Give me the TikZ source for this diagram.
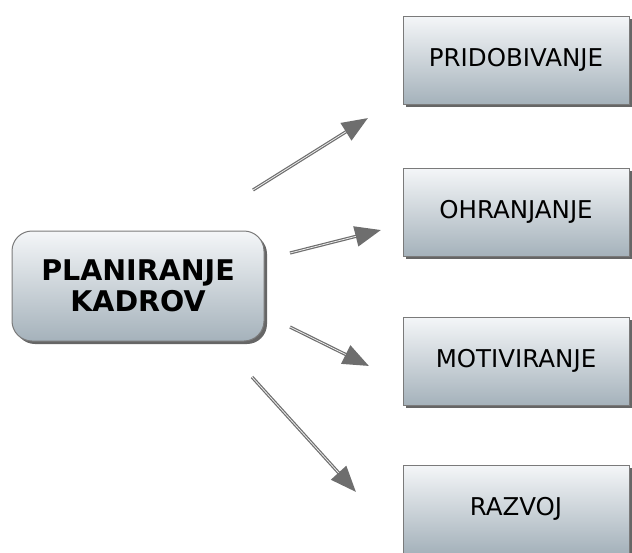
\documentclass[tikz,border=0pt]{standalone}
\usepackage{fontspec}
\setmainfont{DejaVu Sans}
\usetikzlibrary{arrows.meta,shadows}
\definecolor{boxtop}{HTML}{F4F6F8}
\definecolor{boxbot}{HTML}{A5B2BB}
\definecolor{boxline}{HTML}{7A7A7A}
\definecolor{arrowgrey}{HTML}{6E6E6E}
\tikzset{
  panel/.style={draw=boxline, line width=1pt, top color=boxtop, bottom color=boxbot,
    drop shadow={shadow xshift=3pt, shadow yshift=-3pt, fill=black!75, opacity=0.8},
    minimum width=226pt, minimum height=88pt, font=\fontsize{24.5}{28}\selectfont, text=black},
  mainpanel/.style={panel, rounded corners=20pt, minimum width=252pt, minimum height=110pt,
    font=\fontsize{28.5}{31}\selectfont\bfseries, align=center},
  link/.style={draw=arrowgrey, line width=3.2pt, -{Triangle[length=26pt,width=20pt]}},
  linkglow/.style={draw=white!85!gray, line width=0.8pt, shorten >=26pt}
}
\begin{document}
\begin{tikzpicture}[x=1pt,y=-1pt]
  \useasboundingbox (0,0) rectangle (632,552);
  \node[mainpanel] (plan) at (138,286) {PLANIRANJE\\KADROV};
  \node[panel] (prid) at (516,60) {PRIDOBIVANJE};
  \node[panel] (ohr) at (516,212) {OHRANJANJE};
  \node[panel] (mot) at (516,361) {MOTIVIRANJE};
  \node[panel] (raz) at (516,509) {RAZVOJ};
  % arrow start and end points
  \coordinate (a1s) at (253,190); \coordinate (a1e) at (368,118);
  \coordinate (a2s) at (290,253); \coordinate (a2e) at (381,230);
  \coordinate (a3s) at (290,327); \coordinate (a3e) at (369,366);
  \coordinate (a4s) at (252,377); \coordinate (a4e) at (356,492);
  \foreach \i in {1,2,3,4} {
    \draw[link] (a\i s) -- (a\i e);
    \draw[linkglow] (a\i s) -- (a\i e);
  }
\end{tikzpicture}
\end{document}
